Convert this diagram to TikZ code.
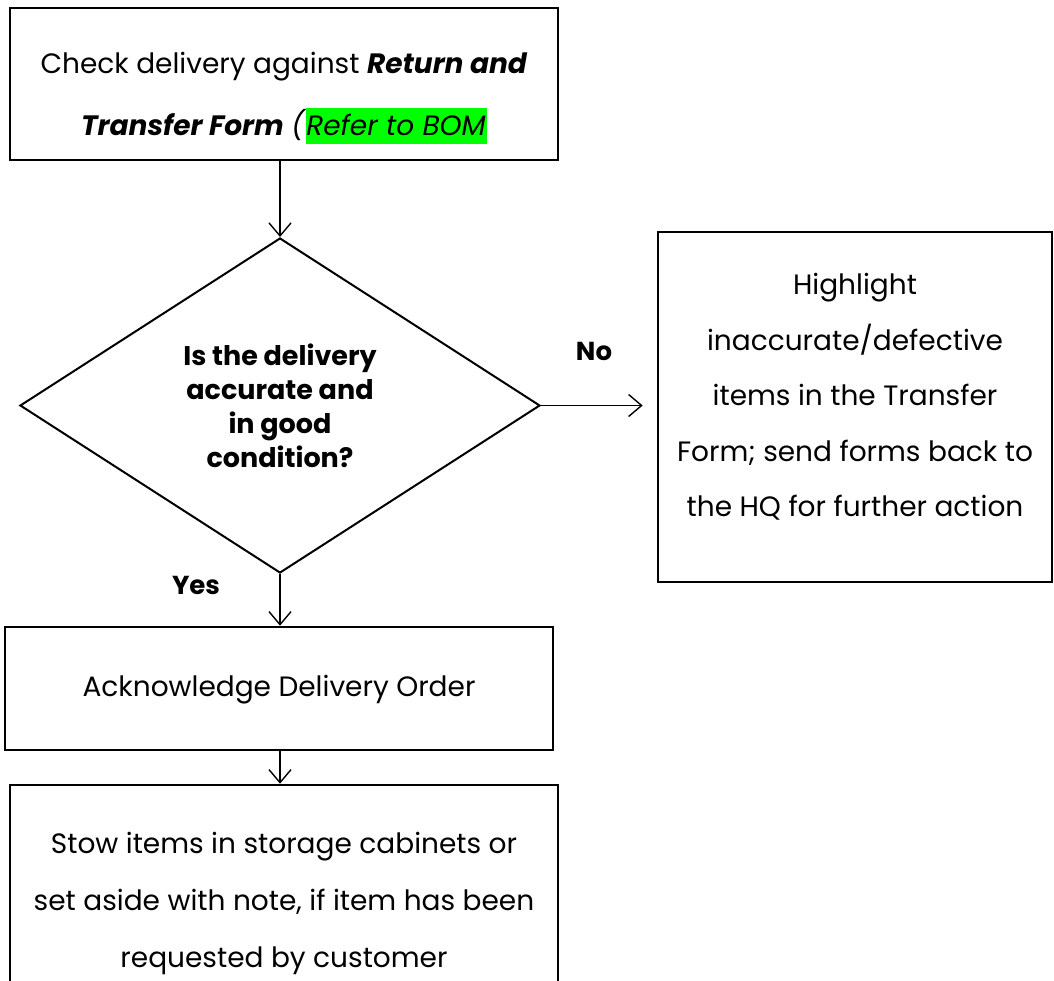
\documentclass[tikz,border=0pt]{standalone}
\usepackage{fontspec}
\setmainfont{Poppins}
\usetikzlibrary{shapes.geometric,arrows.meta}
\definecolor{hlgreen}{HTML}{00FF00}
\newcommand{\hlbox}[1]{{\setlength{\fboxsep}{0pt}\colorbox{hlgreen}{\rule[-0.3em]{0pt}{1.28em}#1\hspace{1pt}}}}
\tikzset{
  boxshape/.style={draw=black,line width=2.6pt,rectangle,inner sep=0pt},
  diashape/.style={draw=black,line width=2pt,diamond,inner sep=0pt},
  flowarrow/.style={draw=black,line width=1.4pt,-{Straight Barb[length=13pt,width=22pt,line width=1.4pt]}},
  boxtext/.style={align=center,font=\fontsize{28}{60}\selectfont,inner sep=0pt},
  decision/.style={align=center,font=\bfseries\fontsize{27}{34}\selectfont,inner sep=0pt},
  answer/.style={font=\bfseries\fontsize{26}{28}\selectfont,inner sep=0pt}
}
\begin{document}
\begin{tikzpicture}[x=1pt,y=-1pt]
\clip (0,0) rectangle (1054,980);
\fill[white] (0,0) rectangle (1054,980);
% boxes
\node[boxshape,minimum width=548pt,minimum height=152pt] (top) at (284,84) {};
\node[diashape,minimum width=520pt,minimum height=335pt] (dia) at (280,405.5) {};
\node[boxshape,minimum width=394pt,minimum height=350pt] (right) at (855,407) {};
\node[boxshape,minimum width=548pt,minimum height=123pt] (ack) at (279,688.5) {};
\node[boxshape,minimum width=548pt,minimum height=220pt] (stow) at (284,895) {};
% texts
\node[boxtext,font=\fontsize{28}{62}\selectfont] (toptext) at (284,98) {Check delivery against \textbf{\textit{Return and}}\\\textbf{\textit{Transfer Form}} \textit{(}\hlbox{\textit{Refer to BOM}}};
\node[decision] (diatext) at (280,406) {Is the delivery\\accurate and\\in good\\condition?};
\node[boxtext,font=\fontsize{28}{55.5}\selectfont] (righttext) at (855,397) {Highlight\\inaccurate/defective\\items in the Transfer\\Form; send forms back to\\the HQ for further action};
\node[boxtext] (acktext) at (279,690) {Acknowledge Delivery Order};
\node[boxtext,font=\fontsize{28}{57}\selectfont] (stowtext) at (284,903) {Stow items in storage cabinets or\\set aside with note, if item has been\\requested by customer};
\node[answer] (no) at (594,351) {No};
\node[answer] (yes) at (196,585) {Yes};
% connectors
\draw[flowarrow] (top.south -| dia.north) -- (dia.north);
\draw[flowarrow,shorten >=14pt] (dia.east) -- (dia.east -| right.west);
\draw[flowarrow] (dia.south) -- (dia.south |- ack.north);
\draw[flowarrow] (ack.south -| dia.south) -- (dia.south |- stow.north);
\end{tikzpicture}
\end{document}
